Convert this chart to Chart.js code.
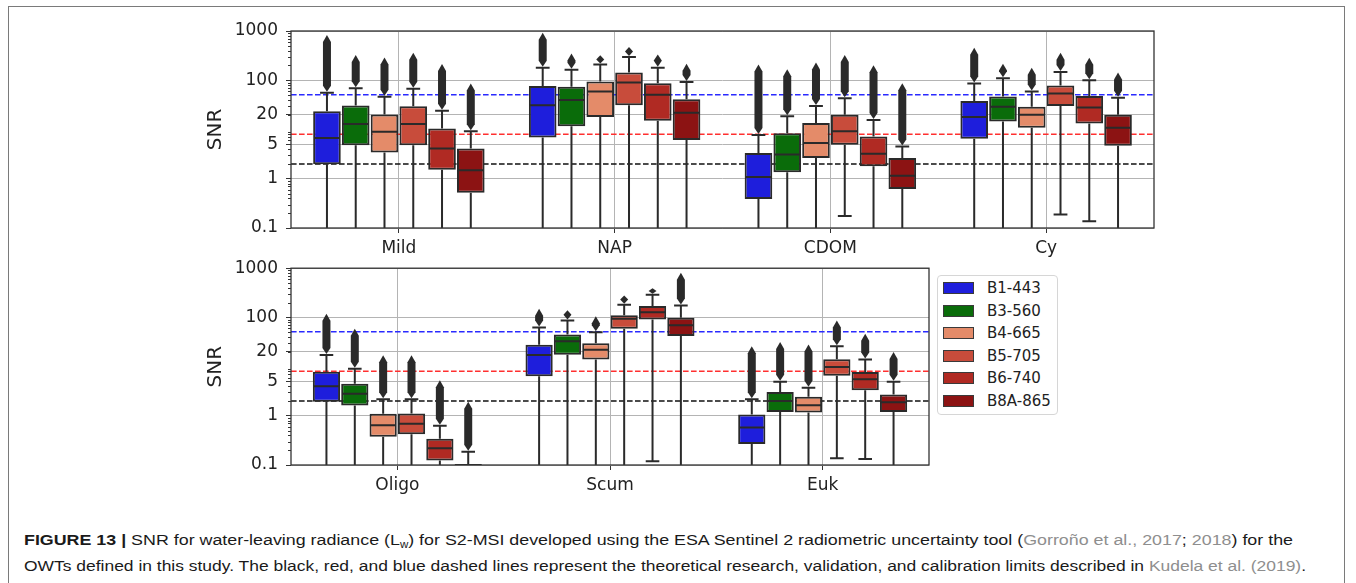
<!DOCTYPE html>
<html>
<head>
<meta charset="utf-8">
<script src="https://cdn.jsdelivr.net/npm/chart.js@4.4.1/dist/chart.umd.min.js"></script>
<style>
  body { margin: 0; background: #fff; width: 1356px; height: 583px; overflow: hidden; position: relative; font-family: 'DejaVu Sans', sans-serif; }
  #frame { position: absolute; left: 8px; top: 6px; width: 1337px; height: 640px; border: 1px solid #7a7a7a; box-sizing: border-box; }
  canvas { position: absolute; left: 0; }
  #legend { position: absolute; left: 937px; top: 275px; width: 121px; height: 140px; border: 1px solid #d6d6d6; border-radius: 4px; box-sizing: border-box; background: #fff; }
  .item { position: absolute; left: 5px; height: 16px; width: 112px; }
  .sw { position: absolute; left: 0; top: 2px; width: 31px; height: 12px; border: 1px solid #3a3a3a; box-sizing: border-box; }
  .lab { position: absolute; left: 44px; top: 0; font-size: 15px; line-height: 16px; color: #222; }
  .cap { position: absolute; left: 24px; white-space: nowrap; font-family: 'Liberation Sans', Arial, sans-serif; font-size: 15.5px; line-height: 18px; color: #1a1a1a; transform-origin: 0 50%; }
  .cap sub { font-size: 10px; vertical-align: baseline; position: relative; top: 3px; }
  .ref { color: #8e8e8e; }
</style>
</head>
<body>
<div id="frame"></div>
<canvas id="top" width="1356" height="262" style="top:0"></canvas>
<canvas id="bot" width="1356" height="250" style="top:250px"></canvas>
<div id="legend"></div>
<div class="cap" id="cap1" style="top:531px"><b>FIGURE 13 |</b> SNR for water-leaving radiance (L<sub>w</sub>) for S2-MSI developed using the ESA Sentinel 2 radiometric uncertainty tool (<span class="ref">Gorroño et al., 2017</span>; <span class="ref">2018</span>) for the</div>
<div class="cap" id="cap2" style="top:557px">OWTs defined in this study. The black, red, and blue dashed lines represent the theoretical research, validation, and calibration limits described in <span class="ref">Kudela et al. (2019)</span>.</div>

<script>
// bands (hue) and their colours
const BANDS = ['B1-443', 'B3-560', 'B4-665', 'B5-705', 'B6-740', 'B8A-865'];
const BAND_COLORS = ['#1e1edc', '#0a6c0a', '#e48b69', '#c84c3b', '#b02a23', '#8c1313'];

const Y_TICKS = [0.1, 1, 5, 20, 100, 1000];
// research, validation, calibration limits (Kudela et al. 2019)
const LIMITS = [2, 8, 51];
const LIMIT_COLORS = ['#111111', '#ff3030', '#2a2aff'];

// ---- top panel: one row per band, one column per category
const TOP_CATS = ['Mild', 'NAP', 'CDOM', 'Cy'];
const TOP_Q1  = [[1.97, 6.9, 0.39, 6.5], [4.8, 11.7, 1.36, 14.6], [3.4, 18, 2.65, 10.9],
                 [4.8, 31, 4.9, 30], [1.53, 15, 1.8, 13.3], [0.52, 6.1, 0.62, 4.7]];
const TOP_MED = [[6.7, 31, 1.08, 18], [13, 39.5, 3.1, 29], [9, 59, 5.3, 20],
                 [12.9, 90, 9.2, 54], [4.1, 50.6, 3.2, 28], [1.49, 22, 1.15, 10.9]];
const TOP_Q3  = [[23.6, 76, 3.35, 38], [30.8, 74, 8.4, 47], [20.2, 94, 13.5, 29],
                 [29.8, 143, 20, 78], [10.5, 87, 7.2, 48], [4.1, 41, 2.65, 20]];
const TOP_LO  = [[0.05, 0.05, 0.05, 0.05], [0.05, 0.05, 0.05, 0.05], [0.05, 0.05, 0.05, 0.05],
                 [0.05, 0.05, 0.176, 0.187], [0.05, 0.05, 0.05, 0.137], [0.05, 0.05, 0.05, 0.05]];
const TOP_HI  = [[55.7, 180, 7.7, 86], [69, 164, 18.5, 110], [46, 210, 30, 59],
                 [67, 296, 43, 147], [24, 180, 15.6, 100], [9.2, 92, 4.5, 44]];
const TOP_MAX = [[830, 925, 210, 457], [325, 351, 167, 217], [291, 320, 228, 180],
                 [362, 471, 325, 362], [213, 335, 201, 287], [86, 217, 87, 143]];

// ---- bottom panel
const BOT_CATS = ['Oligo', 'Scum', 'Euk'];
const BOT_Q1  = [[1.92, 6.4, 0.267], [1.62, 17.5, 1.2], [0.375, 13.9, 1.17],
                 [0.42, 59, 6.5], [0.124, 91, 3.3], [0.05, 42, 1.19]];
const BOT_MED = [[4.0, 17.2, 0.58], [2.8, 32.6, 2.0], [0.64, 22, 1.64],
                 [0.69, 94, 9.8], [0.218, 128, 5.5], [0.07, 69, 1.89]];
const BOT_Q3  = [[7.9, 27.9, 1.06], [4.5, 45, 3.06], [1.1, 30, 2.43],
                 [1.12, 110, 14.1], [0.34, 170, 7.8], [0.105, 98, 2.7]];
const BOT_LO  = [[0.05, 0.05, 0.05], [0.05, 0.05, 0.05], [0.05, 0.05, 0.05],
                 [0.05, 0.05, 0.137], [0.05, 0.119, 0.133], [0.05, 0.05, 0.05]];
const BOT_HI  = [[17.2, 62, 2.18], [9.0, 87, 4.9], [2.18, 50, 3.7],
                 [2.18, 181, 25.8], [0.63, 288, 13.9], [0.186, 175, 4.9]];
const BOT_MAX = [[119, 150, 26], [59, 139, 31.6], [17, 106, 28],
                 [17, 279, 87], [5.3, 393, 46.7], [1.92, 804, 19.8]];

const LINE = '#2a2a2a';

Chart.defaults.font.family = "'DejaVu Sans', sans-serif";
Chart.defaults.color = '#222';

/* dashed limit lines, behind the boxes */
const limitLines = {
  id: 'limitLines',
  beforeDatasetsDraw(chart) {
    const { ctx, chartArea: a, scales: { y } } = chart;
    ctx.save();
    ctx.lineWidth = 1.5;
    ctx.setLineDash([5.6, 2.4]);
    LIMITS.forEach((v, i) => {
      const py = y.getPixelForValue(v);
      ctx.strokeStyle = LIMIT_COLORS[i];
      ctx.beginPath();
      ctx.moveTo(a.left, py);
      ctx.lineTo(a.right, py);
      ctx.stroke();
    });
    ctx.restore();
  }
};

/* whiskers, caps, medians and flier columns for every box */
const boxParts = {
  id: 'boxParts',
  afterDatasetsDraw(chart) {
    const { ctx, chartArea: a, scales: { y } } = chart;
    ctx.save();
    ctx.beginPath();
    ctx.rect(a.left, a.top, a.right - a.left, a.bottom - a.top);
    ctx.clip();
    ctx.strokeStyle = LINE;
    ctx.fillStyle = LINE;
    ctx.lineWidth = 2;
    chart.data.datasets.forEach((ds, i) => {
      chart.getDatasetMeta(i).data.forEach((bar, j) => {
        const x = bar.x, w = bar.width;
        const q1 = y.getPixelForValue(ds.data[j][0]);
        const q3 = y.getPixelForValue(ds.data[j][1]);
        const lo = y.getPixelForValue(ds.lo[j]);
        const hi = y.getPixelForValue(ds.hi[j]);
        const md = y.getPixelForValue(ds.med[j]);
        const mx = y.getPixelForValue(ds.max[j]);
        ctx.beginPath();
        ctx.moveTo(x, q3); ctx.lineTo(x, hi);
        ctx.moveTo(x, q1); ctx.lineTo(x, lo);
        ctx.moveTo(x - w / 4, hi); ctx.lineTo(x + w / 4, hi);
        ctx.moveTo(x - w / 4, lo); ctx.lineTo(x + w / 4, lo);
        ctx.moveTo(x - w / 2 + 1, md); ctx.lineTo(x + w / 2 - 1, md);
        ctx.stroke();
        // dense diamond fliers look like a pointed column
        const top = mx, bot = hi - 1;
        const mid = (top + bot) / 2;
        const s1 = Math.min(top + 7, mid), s2 = Math.max(bot - 6, mid);
        ctx.beginPath();
        ctx.moveTo(x, top);
        ctx.lineTo(x + 4, s1);
        ctx.lineTo(x + 4, s2);
        ctx.lineTo(x, bot);
        ctx.lineTo(x - 4, s2);
        ctx.lineTo(x - 4, s1);
        ctx.closePath();
        ctx.fill();
      });
    });
    ctx.restore();
  }
};

/* axes frame and log minor ticks */
const frame = {
  id: 'frame',
  afterDraw(chart) {
    const { ctx, chartArea: a, scales: { y } } = chart;
    ctx.save();
    ctx.strokeStyle = '#333';
    ctx.lineWidth = 1.3;
    ctx.strokeRect(a.left, a.top, a.right - a.left, a.bottom - a.top);
    ctx.lineWidth = 1;
    ctx.beginPath();
    for (let k = -1; k <= 2; k++) {
      for (let d = 2; d <= 9; d++) {
        const py = Math.round(y.getPixelForValue(d * Math.pow(10, k))) + 0.5;
        ctx.moveTo(a.left - 3, py);
        ctx.lineTo(a.left, py);
      }
    }
    ctx.stroke();
    ctx.restore();
  }
};

function makePanel(id, cats, q1, med, q3, lo, hi, max, pad, xHeight) {
  const datasets = BANDS.map((b, i) => ({
    label: b,
    data: cats.map((c, j) => [q1[i][j], q3[i][j]]),
    med: med[i], lo: lo[i], hi: hi[i], max: max[i],
    backgroundColor: BAND_COLORS[i],
    borderColor: LINE,
    borderWidth: 2,
    borderSkipped: false,
    barPercentage: 0.96,
    categoryPercentage: 0.8,
  }));

  return new Chart(document.getElementById(id), {
    type: 'bar',
    data: { labels: cats, datasets },
    plugins: [limitLines, boxParts, frame],
    options: {
      responsive: false,
      animation: false,
      layout: { padding: pad },
      plugins: { legend: { display: false }, tooltip: { enabled: false } },
      scales: {
        x: {
          offset: true,
          border: { display: false },
          grid: { offset: false, color: '#b4b4b4', lineWidth: 1, tickLength: 5, tickColor: '#333' },
          ticks: { font: { size: 17 }, color: '#222', padding: 5, maxRotation: 0 },
          afterFit: s => { s.height = xHeight; }
        },
        y: {
          type: 'logarithmic',
          min: 0.1,
          max: 1000,
          border: { display: false },
          afterBuildTicks: s => { s.ticks = Y_TICKS.map(v => ({ value: v })); },
          grid: { color: '#b4b4b4', lineWidth: 1, tickLength: 5, tickColor: '#333' },
          ticks: { callback: v => String(v), font: { size: 17 }, color: '#222', padding: 8 },
          title: { display: true, text: 'SNR', font: { size: 20 }, color: '#222', padding: { top: 4, bottom: 4 } },
          afterFit: s => { s.width = 91; }
        }
      }
    }
  });
}

const topChart = makePanel('top', TOP_CATS, TOP_Q1, TOP_MED, TOP_Q3, TOP_LO, TOP_HI, TOP_MAX,
  { top: 31, left: 200, right: 202, bottom: 0 }, 34);
const botChart = makePanel('bot', BOT_CATS, BOT_Q1, BOT_MED, BOT_Q3, BOT_LO, BOT_HI, BOT_MAX,
  { top: 18, left: 200, right: 427, bottom: 0 }, 35);

// legend built from the bottom chart's datasets
const legend = document.getElementById('legend');
botChart.data.datasets.forEach((ds, i) => {
  const row = document.createElement('div');
  row.className = 'item';
  row.style.top = (4 + i * 22.6) + 'px';
  row.innerHTML = '<span class="sw" style="background:' + ds.backgroundColor + '"></span><span class="lab">' + ds.label + '</span>';
  legend.appendChild(row);
});

// squeeze caption lines to the width of the original typesetting
[['cap1', 1293], ['cap2', 1306]].forEach(([id, right]) => {
  const el = document.getElementById(id);
  const w = el.getBoundingClientRect().width;
  el.style.transform = 'scaleX(' + ((right - 24) / w) + ')';
});
</script>
</body>
</html>
